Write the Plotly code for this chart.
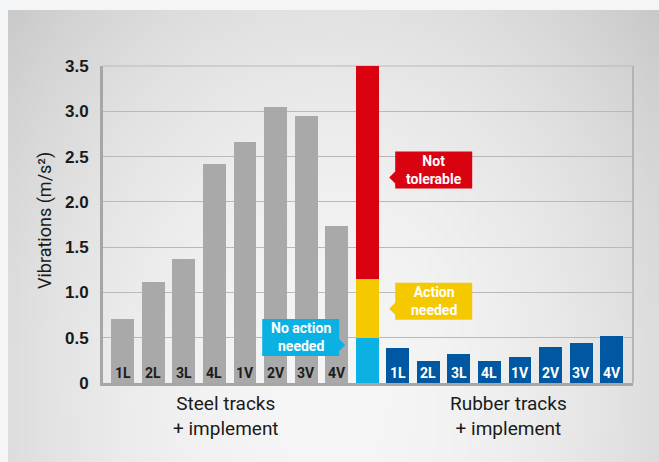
import base64
import struct
import zlib

import plotly.graph_objects as go

# ---------------- data ----------------
categories = ["1L", "2L", "3L", "4L", "1V", "2V", "3V", "4V"]
steel_values = [0.71, 1.12, 1.37, 2.42, 2.66, 3.05, 2.95, 1.73]
rubber_values = [0.39, 0.24, 0.32, 0.24, 0.29, 0.40, 0.44, 0.52]
zone_bounds = [0.0, 0.5, 1.15, 3.5]
zone_labels = ["No action<br>needed", "Action<br>needed", "Not<br>tolerable"]
group_labels = ["Steel tracks<br>+ implement", "Rubber tracks<br>+ implement"]
y_tickvals = [0, 0.5, 1.0, 1.5, 2.0, 2.5, 3.0, 3.5]
y_ticktext = ["0", "0.5", "1.0", "1.5", "2.0", "2.5", "3.0", "3.5"]
y_title = "Vibrations (m/s²)"

# ---------------- styles ----------------
W, H = 659, 462
ML, MR, MT, MB = 103, 26, 66, 79
PW, PH = W - ML - MR, H - MT - MB
GRAY = "#a9a9a9"
BLUE = "#0058a2"
ZONE_COLORS = ["#0bb1e3", "#f5c900", "#d90211"]
FONT = "Roboto"


def px_x(px):
    return (px - ML) / PW


def px_y(py):
    return (H - MB - py) / PH


# background gradient as a small generated PNG
def gradient_png(w, h):
    rows = []
    for j in range(h):
        py = 10 + (j + 0.5) / h * (H - 10)
        row = bytearray([0])
        for i in range(w):
            px = 8 + (i + 0.5) / w * (W - 8)
            dx = (px - 330) / 320
            dy = (py - 400) / 390
            v = 246 - 24 * dx * dx - 20 * dy * dy
            v = int(max(195, min(247, v)))
            row += bytes([v, v, v])
        rows.append(bytes(row))
    raw = b"".join(rows)

    def chunk(tag, data):
        return (struct.pack(">I", len(data)) + tag + data
                + struct.pack(">I", zlib.crc32(tag + data) & 0xFFFFFFFF))

    png = b"\x89PNG\r\n\x1a\n"
    png += chunk(b"IHDR", struct.pack(">IIBBBBB", w, h, 8, 2, 0, 0, 0))
    png += chunk(b"IDAT", zlib.compress(raw, 9))
    png += chunk(b"IEND", b"")
    return "data:image/png;base64," + base64.b64encode(png).decode()


n = len(categories)
steel_x = list(range(n))
scale_x = n
rubber_x = [n + 1 + i for i in range(n)]

fig = go.Figure()

fig.add_trace(go.Bar(x=steel_x, y=steel_values, marker_color=GRAY,
                     marker_line_width=0, width=0.75, hoverinfo="skip",
                     showlegend=False))
for k in range(len(zone_labels)):
    fig.add_trace(go.Bar(x=[scale_x], y=[zone_bounds[k + 1] - zone_bounds[k]],
                         base=[zone_bounds[k]], marker_color=ZONE_COLORS[k],
                         marker_line_width=0, width=0.75, hoverinfo="skip",
                         showlegend=False))
fig.add_trace(go.Bar(x=rubber_x, y=rubber_values, marker_color=BLUE,
                     marker_line_width=0, width=0.75, hoverinfo="skip",
                     showlegend=False))

annotations = []
shapes = []

# labels inside bars
for xs, col in ((steel_x, "#1c1c1c"), (rubber_x, "white")):
    for x, c in zip(xs, categories):
        annotations.append(dict(x=x, y=0, xref="x", yref="y", text=c,
                                showarrow=False, yanchor="middle", yshift=10.5,
                                font=dict(family=FONT, size=14, color=col,
                                          weight="bold")))

# group labels
for xs, lab, shift in ((steel_x, group_labels[0], -4), (rubber_x, group_labels[1], 4)):
    annotations.append(dict(x=sum(xs) / len(xs), y=0, xref="x", yref="y",
                            text=lab, showarrow=False, yanchor="middle",
                            yshift=-33, xshift=shift,
                            font=dict(family=FONT, size=19, color="#1a1a1a")))

# y-axis title
annotations.append(dict(x=px_x(45), y=px_y(221), xref="paper", yref="paper",
                        xanchor="center", yanchor="middle",
                        text=y_title, textangle=-90, showarrow=False,
                        font=dict(family=FONT, size=18, color="#1a1a1a")))

# callouts: pointer y in data units, side of the scale bar
callout_tips = [0.42, 0.82, 2.27]
callout_side = [-1, 1, 1]
BOX_W, BOX_H, GAP, TRI, BELOW = 77, 37, 6, 6, 11
for k in range(3):
    s = callout_side[k]
    tip = 22 * s
    base_x = tip + GAP * s
    far_x = base_x + BOX_W * s
    top = BOX_H - BELOW
    bot = -BELOW
    path = (f"M {tip},0 L {base_x},{TRI} L {base_x},{top} L {far_x},{top} "
            f"L {far_x},{bot} L {base_x},{bot} L {base_x},{-TRI} Z")
    shapes.append(dict(type="path", xref="x", yref="y", xsizemode="pixel",
                       ysizemode="pixel", xanchor=scale_x,
                       yanchor=callout_tips[k], path=path,
                       fillcolor=ZONE_COLORS[k], line_width=0, layer="above"))
    annotations.append(dict(x=scale_x, y=callout_tips[k], xref="x", yref="y",
                            text=zone_labels[k], showarrow=False,
                            xshift=(base_x + far_x) / 2,
                            yshift=(top + bot) / 2,
                            xanchor="center", yanchor="middle",
                            font=dict(family=FONT, size=14, color="white",
                                      weight="bold")))

# right border and top line
shapes.append(dict(type="line", xref="paper", yref="paper", x0=1, x1=1, y0=0, y1=1,
                   line=dict(color="#a8a8a8", width=1.5), layer="below"))
shapes.append(dict(type="line", xref="paper", yref="paper", x0=0, x1=1, y0=1, y1=1,
                   line=dict(color="#b9b9b9", width=1), layer="below"))

fig.update_layout(
    width=W, height=H,
    margin=dict(l=ML, r=MR, t=MT, b=MB, pad=0),
    paper_bgcolor="#f4f5f7",
    plot_bgcolor="rgba(0,0,0,0)",
    barmode="overlay",
    bargap=0,
    showlegend=False,
    images=[dict(source=gradient_png(80, 56), xref="paper", yref="paper",
                 x=px_x(8), y=px_y(10), sizex=(W - 8) / PW, sizey=(H - 10) / PH,
                 sizing="stretch", xanchor="left", yanchor="top",
                 layer="below")],
    xaxis=dict(range=[-0.648, 16.70], showgrid=False, showticklabels=False,
               zeroline=False, showline=True, linecolor="#a6a6a6", linewidth=3,
               ticks="", fixedrange=True),
    yaxis=dict(range=[0, 3.5], tickvals=y_tickvals, ticktext=y_ticktext,
               tickfont=dict(family="Liberation Sans", size=17, color="#1a1a1a",
                             weight="bold"),
               gridcolor="#b9b9b9", gridwidth=1, showline=True,
               linecolor="#a6a6a6", linewidth=3, ticks="outside", ticklen=8,
               tickcolor="rgba(0,0,0,0)", zeroline=False, fixedrange=True),
    annotations=annotations,
    shapes=shapes,
)

fig.write_html(
    "out.html",
    config={"displayModeBar": False},
    post_script="document.body.style.margin='0';"
                "document.body.style.background='#f4f5f7';",
)
